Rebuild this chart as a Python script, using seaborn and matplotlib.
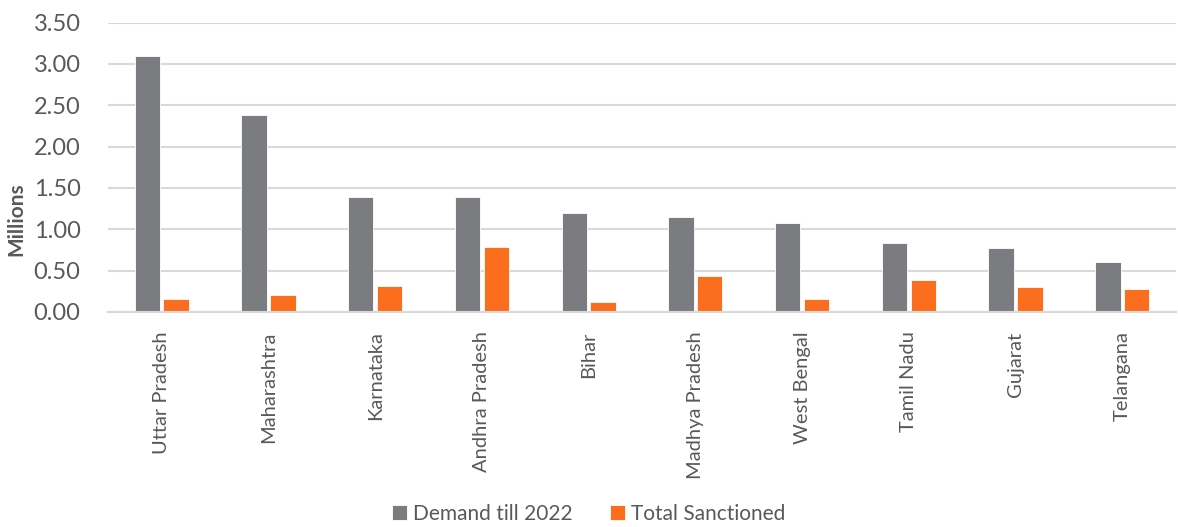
import matplotlib
matplotlib.use("Agg")
import matplotlib.pyplot as plt
import seaborn as sns
import pandas as pd

states = ["Uttar Pradesh", "Maharashtra", "Karnataka", "Andhra Pradesh", "Bihar",
          "Madhya Pradesh", "West Bengal", "Tamil Nadu", "Gujarat", "Telangana"]
demand_till_2022 = [3.10, 2.38, 1.39, 1.39, 1.20, 1.15, 1.08, 0.84, 0.77, 0.61]
total_sanctioned = [0.16, 0.21, 0.31, 0.79, 0.12, 0.43, 0.16, 0.39, 0.30, 0.28]
series_names = ["Demand till 2022", "Total Sanctioned"]
series_colors = ["#7B7C80", "#FA6E1E"]
y_ticks = [0.0, 0.5, 1.0, 1.5, 2.0, 2.5, 3.0, 3.5]

df = pd.DataFrame({
    "State": states * 2,
    "Series": [series_names[0]] * len(states) + [series_names[1]] * len(states),
    "Millions": demand_till_2022 + total_sanctioned,
})

sns.set_theme(style="white")
plt.rcParams["font.family"] = ["Lato", "DejaVu Sans"]
text_color = "#595959"
grid_color = "#D9D9D9"

fig = plt.figure(figsize=(11.78, 5.27), dpi=100)
ax = fig.add_axes([0.092, 0.408, 0.906, 0.549])

sns.barplot(data=df, x="State", y="Millions", hue="Series", order=states,
            hue_order=series_names, palette=series_colors, width=0.54, gap=0.12,
            edgecolor="white", linewidth=0.6, saturation=1, ax=ax, legend=True)

ax.set_ylim(0, 3.5)
ax.set_yticks(y_ticks)
ax.set_yticklabels([f"{v:.2f}" for v in y_ticks])
ax.set_xlim(-0.5, len(states) - 0.5)
ax.yaxis.grid(True, color=grid_color, linewidth=1.5)
ax.set_axisbelow(True)
for side in ["top", "right", "left"]:
    ax.spines[side].set_visible(False)
ax.spines["bottom"].set_color(grid_color)
ax.spines["bottom"].set_linewidth(1.5)

ax.tick_params(axis="y", length=0, pad=20, labelsize=17, labelcolor=text_color)
ax.tick_params(axis="x", length=0, pad=14, labelsize=14.5, labelcolor=text_color)
plt.setp(ax.get_xticklabels(), rotation=90, va="top", ha="center")

ax.set_xlabel("")
ax.set_ylabel("Millions", fontsize=15, fontweight="bold", color=text_color)
ax.yaxis.set_label_coords(-0.077, 0.32)

handles, labels = ax.get_legend_handles_labels()
ax.get_legend().remove()
fig.legend(handles, labels, loc="lower center", bbox_to_anchor=(0.5, -0.03), ncol=2,
           frameon=False, fontsize=15, labelcolor=text_color, handlelength=0.7,
           handleheight=0.7, handletextpad=0.3, columnspacing=1.8)

fig.savefig("out.png", dpi=100, facecolor="white")
